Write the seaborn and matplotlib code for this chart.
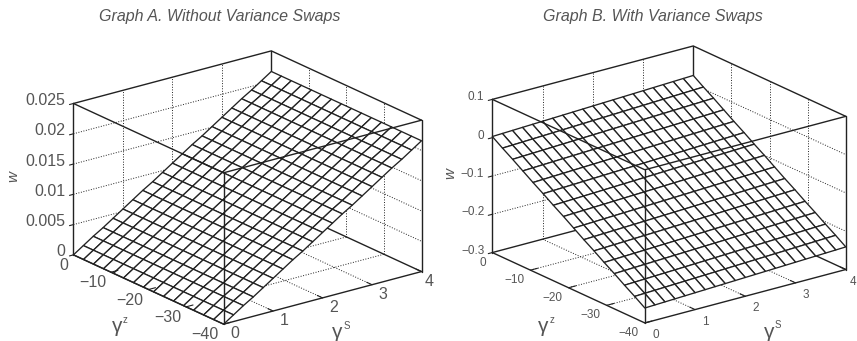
import numpy as np
import seaborn as sns
import matplotlib
matplotlib.use('Agg')
import matplotlib.pyplot as plt
from mpl_toolkits.mplot3d import proj3d

# values
s_ticks = [0, 1, 2, 3, 4]
z_ticks = [0, -10, -20, -30, -40]
s_grid = [0, 0.2, 0.4, 0.6, 0.8, 1.0, 1.2, 1.4, 1.6, 1.8, 2.0,
          2.2, 2.4, 2.6, 2.8, 3.0, 3.2, 3.4, 3.6, 3.8, 4.0]
z_grid = [0, -2.67, -5.33, -8, -10.67, -13.33, -16, -18.67, -21.33, -24,
          -26.67, -29.33, -32, -34.67, -37.33, -40]

# graph A: w only moves with gamma S
w_ticks_a = [0, 0.005, 0.01, 0.015, 0.02, 0.025]
w_labels_a = ['0', '0.005', '0.01', '0.015', '0.02', '0.025']
w_a_by_s = [0, 0.0011, 0.0022, 0.0032, 0.0043, 0.0054, 0.0065, 0.0076, 0.0086, 0.0097, 0.0108,
            0.0119, 0.0130, 0.0140, 0.0151, 0.0162, 0.0173, 0.0184, 0.0194, 0.0205, 0.0216]

# graph B: w moves with gamma z, a little with gamma S
w_ticks_b = [-0.3, -0.2, -0.1, 0, 0.1]
w_labels_b = ['\u22120.3', '\u22120.2', '\u22120.1', '0', '0.1']
w_b_by_z = [0.003, -0.015, -0.032, -0.050, -0.068, -0.085, -0.103, -0.120, -0.138, -0.156,
            -0.173, -0.191, -0.208, -0.226, -0.243, -0.261]
w_b_s_shift = [0, 0.001, 0.002, 0.003, 0.004, 0.005, 0.006, 0.007, 0.008, 0.009, 0.010,
               0.011, 0.012, 0.013, 0.014, 0.015, 0.016, 0.017, 0.018, 0.019, 0.020]

sns.set_theme(style='white', font='Liberation Sans')
ink = '#222222'
text_col = '#555555'
W, H = 857, 341


def minus(v):
    return str(v).replace('-', '\u2212')


def draw_graph(rect, aspect, w_vals, w_ticks, w_labels, ticksize, off):
    ax = fig.add_axes([rect[0] / W, rect[1] / H, rect[2] / W, rect[2] / H],
                      projection='3d', proj_type='ortho', computed_zorder=False)
    ax.set_axis_off()
    ax.view_init(elev=20.5, azim=232.8)
    ax.set_box_aspect(aspect)
    w0, w1 = w_ticks[0], w_ticks[-1]

    # back walls and floor, dotted
    for s in s_ticks[1:-1]:
        ax.plot([s, s], [0, -40], [w0, w0], ':', color=ink, lw=0.7, zorder=1)
        ax.plot([s, s], [0, 0], [w0, w1], ':', color=ink, lw=0.7, zorder=1)
    for z in z_ticks[1:-1]:
        ax.plot([0, 4], [z, z], [w0, w0], ':', color=ink, lw=0.7, zorder=1)
        ax.plot([4, 4], [z, z], [w0, w1], ':', color=ink, lw=0.7, zorder=1)
    for w in w_ticks[1:-1]:
        ax.plot([0, 4, 4], [0, 0, -40], [w, w, w], ':', color=ink, lw=0.7, zorder=1)

    # box edges behind the surface
    ax.plot([0, 4, 4], [0, 0, -40], [w0, w0, w0], color=ink, lw=1.0, zorder=1)
    ax.plot([4, 4], [0, 0], [w0, w1], color=ink, lw=1.0, zorder=1)
    ax.plot([0, 4, 4], [0, 0, -40], [w1, w1, w1], color=ink, lw=1.0, zorder=1)
    ax.plot([0, 0], [0, 0], [w0, w1], color=ink, lw=1.0, zorder=1)
    ax.plot([4, 4], [-40, -40], [w0, w1], color=ink, lw=1.0, zorder=1)

    S, Z = np.meshgrid(s_grid, z_grid)
    ax.plot_surface(S, Z, w_vals, rstride=1, cstride=1, color='white', edgecolor=ink,
                    linewidth=0.95, shade=False, zorder=2)

    # box edges in front
    ax.plot([0, 0, 4], [0, -40, -40], [w0, w0, w0], color=ink, lw=1.0, zorder=3)
    ax.plot([0, 0, 4], [0, -40, -40], [w1, w1, w1], color=ink, lw=1.0, zorder=3)
    ax.plot([0, 0], [-40, -40], [w0, w1], color=ink, lw=1.0, zorder=3)

    # small ticks
    for s in s_ticks[1:]:
        ax.plot([s, s], [-40, -38.6], [w0, w0], color=ink, lw=0.8, zorder=3)
    for z in z_ticks[1:]:
        ax.plot([0, 0.14], [z, z], [w0, w0], color=ink, lw=0.8, zorder=3)
    for w in w_ticks:
        ax.plot([-0.08, 0], [0, 0], [w, w], color=ink, lw=0.8, zorder=3)

    ax.set_xlim(0, 4)
    ax.set_ylim(-40, 0)
    ax.set_zlim(w0, w1)
    proj = ax.get_proj()

    def put(x, y, z, txt, dx, dy, **kw):
        px, py, _ = proj3d.proj_transform(x, y, z, proj)
        ax.annotate(txt, xy=(px, py), xycoords='data', xytext=(dx, dy),
                    textcoords='offset pixels', color=text_col, annotation_clip=False,
                    ha=kw.pop('ha', 'center'), va='center', **kw)

    for w, lab in zip(w_ticks, w_labels):
        put(0, 0, w, lab, off['w'][0], off['w'][1], ha='right', fontsize=ticksize)
    for z in z_ticks:
        put(0, z, w0, minus(z), off['z'][0], off['z'][1], ha='right', fontsize=ticksize)
    for s in s_ticks:
        # the last label sits against the figure edge
        nudge = -3 if s == s_ticks[-1] else 0
        put(s, -40, w0, str(s), off['s'][0] + nudge, off['s'][1], fontsize=ticksize)

    put(0, 0, (w0 + w1) / 2, 'w', off['wlab'][0], off['wlab'][1], rotation=90, style='italic',
        fontsize=11)
    put(0, -20, w0, '\u03b3', off['zlab'][0], off['zlab'][1], fontsize=15)
    put(0, -20, w0, 'z', off['zlab'][0] + 8, off['zlab'][1] + 7, fontsize=7)
    put(2, -40, w0, '\u03b3', off['slab'][0], off['slab'][1], fontsize=15)
    put(2, -40, w0, 'S', off['slab'][0] + 9, off['slab'][1] + 7, fontsize=7)
    return ax


fig = plt.figure(figsize=(W / 100, H / 100), dpi=100, facecolor='white')

w_a = np.tile(w_a_by_s, (len(z_grid), 1))
w_b = np.add.outer(w_b_by_z, w_b_s_shift)

draw_graph((54.7, -39.3, 375.4), (249, 249, 162), w_a, w_ticks_a, w_labels_a, 11.5,
           {'w': (-8, 3), 'z': (-5, -10.5), 's': (11, -9.5), 'wlab': (-60, 3),
            'zlab': (-31, -37), 'slab': (15, -35)})
draw_graph((473.4, -39.1, 381), (253, 253, 164), w_b, w_ticks_b, w_labels_b, 8.5,
           {'w': (-8, 2), 'z': (-6, -10), 's': (10.5, -12), 'wlab': (-41.6, 2),
            'zlab': (-25, -39), 'slab': (24, -36)})

fig.text(220 / W, 1 - 17 / H, 'Graph A. Without Variance Swaps', style='italic', color=text_col,
         ha='center', va='center', fontsize=11.5)
fig.text(653 / W, 1 - 17 / H, 'Graph B. With Variance Swaps', style='italic', color=text_col,
         ha='center', va='center', fontsize=11.5)

fig.savefig('out.png', dpi=100)
